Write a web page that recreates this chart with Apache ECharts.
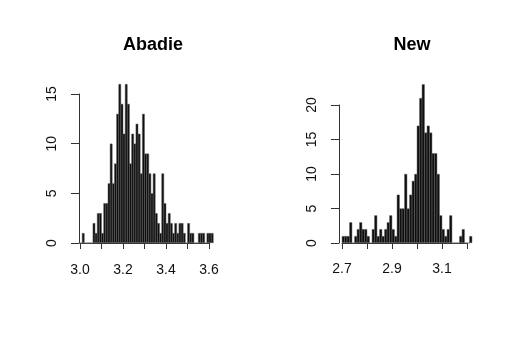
<!DOCTYPE html>
<html>
<head>
<meta charset="utf-8">
<script src="https://cdn.jsdelivr.net/npm/echarts@6/dist/echarts.min.js"></script>
<style>
  html, body { margin: 0; padding: 0; background: #fff; }
  #chart { width: 518px; height: 348px; }
</style>
</head>
<body>
<div id="chart"></div>
<script>
// bin centres (width 0.01) and counts
const abadieBins = [
  3.005, 3.015, 3.025, 3.035, 3.045, 3.055, 3.065, 3.075, 3.085, 3.095,
  3.105, 3.115, 3.125, 3.135, 3.145, 3.155, 3.165, 3.175, 3.185, 3.195,
  3.205, 3.215, 3.225, 3.235, 3.245, 3.255, 3.265, 3.275, 3.285, 3.295,
  3.305, 3.315, 3.325, 3.335, 3.345, 3.355, 3.365, 3.375, 3.385, 3.395,
  3.405, 3.415, 3.425, 3.435, 3.445, 3.455, 3.465, 3.475, 3.485, 3.495,
  3.505, 3.515, 3.525, 3.535, 3.545, 3.555, 3.565, 3.575, 3.585, 3.595,
  3.605, 3.615
];
const abadieCounts = [
  0, 1, 0, 0, 0, 0, 2, 1, 3, 3,
  1, 4, 4, 6, 10, 6, 8, 13, 16, 14,
  11, 16, 14, 8, 11, 10, 12, 11, 7, 13,
  9, 9, 7, 5, 7, 3, 2, 1, 7, 4,
  2, 3, 2, 1, 2, 1, 2, 2, 1, 0,
  2, 1, 1, 0, 0, 1, 1, 1, 0, 1,
  1, 1
];

const newBins = [
  2.705, 2.715, 2.725, 2.735, 2.745, 2.755, 2.765, 2.775, 2.785, 2.795,
  2.805, 2.815, 2.825, 2.835, 2.845, 2.855, 2.865, 2.875, 2.885, 2.895,
  2.905, 2.915, 2.925, 2.935, 2.945, 2.955, 2.965, 2.975, 2.985, 2.995,
  3.005, 3.015, 3.025, 3.035, 3.045, 3.055, 3.065, 3.075, 3.085, 3.095,
  3.105, 3.115, 3.125, 3.135, 3.145, 3.155, 3.165, 3.175, 3.185, 3.195,
  3.205, 3.215
];
const newCounts = [
  1, 1, 1, 3, 0, 1, 2, 3, 2, 2,
  1, 0, 2, 4, 1, 2, 1, 2, 3, 4,
  2, 1, 7, 5, 5, 10, 5, 7, 9, 10,
  17, 21, 23, 16, 17, 16, 13, 13, 10, 4,
  2, 1, 2, 4, 0, 0, 0, 1, 2, 0,
  0, 1
];

const titles = ['Abadie', 'New'];
const abadieXTicks = { min: 3.0, max: 3.6, interval: 0.1 };
const abadieYTicks = { min: 0, max: 15, interval: 5 };
const newXTicks = { min: 2.7, max: 3.2, interval: 0.1 };
const newYTicks = { min: 0, max: 20, interval: 5 };

const font = 'Liberation Sans, Arial, Helvetica, sans-serif';
const axisCol = '#333';

const xAxisOpt = (idx, ticks, showOdd, offset) => ({
  type: 'value',
  gridIndex: idx,
  min: ticks.min,
  max: ticks.max,
  interval: ticks.interval,
  offset: offset,
  splitLine: { show: false },
  axisLine: { show: true, lineStyle: { color: axisCol, width: 1 } },
  axisTick: { show: true, length: 6, lineStyle: { color: axisCol } },
  axisLabel: {
    color: '#111',
    fontFamily: font,
    fontSize: 14,
    margin: 12,
    showMinLabel: true,
    showMaxLabel: true,
    formatter: (v) => {
      const odd = Math.round(v * 10) % 2 === 1;
      return odd === showOdd ? v.toFixed(1) : '';
    },
  },
});

const yAxisOpt = (idx, ticks, offset) => ({
  type: 'value',
  gridIndex: idx,
  min: ticks.min,
  max: ticks.max,
  interval: ticks.interval,
  offset: offset,
  splitLine: { show: false },
  axisLine: { show: true, lineStyle: { color: axisCol, width: 1 } },
  axisTick: { show: true, length: 8, lineStyle: { color: axisCol } },
  axisLabel: {
    color: '#111',
    fontFamily: font,
    fontSize: 14,
    rotate: 90,
    margin: 20,
  },
});

const barSeries = (idx, bins, counts, width) => ({
  type: 'bar',
  xAxisIndex: idx,
  yAxisIndex: idx,
  clip: false,
  barWidth: width,
  data: bins.map((b, i) => [b, counts[i]]),
  itemStyle: { color: '#0e0e0e', borderColor: '#5c5c5c', borderWidth: 0.5 },
  silent: true,
});

const chart = echarts.init(document.getElementById('chart'), null, { renderer: 'canvas' });

chart.setOption({
  animation: false,
  backgroundColor: '#fff',
  title: [
    { text: titles[0], left: 148, top: 31, textAlign: 'center',
      textStyle: { fontFamily: font, fontSize: 18, fontWeight: 'bold', color: '#000' } },
    { text: titles[1], left: 407, top: 31, textAlign: 'center',
      textStyle: { fontFamily: font, fontSize: 18, fontWeight: 'bold', color: '#000' } },
  ],
  grid: [
    { left: 80, right: 309, top: 94, bottom: 105 },
    { left: 342, right: 51, top: 105, bottom: 105 },
  ],
  xAxis: [
    xAxisOpt(0, abadieXTicks, false, 8),
    xAxisOpt(1, newXTicks, true, 7),
  ],
  yAxis: [
    yAxisOpt(0, abadieYTicks, 1),
    yAxisOpt(1, newYTicks, 3),
  ],
  series: [
    barSeries(0, abadieBins, abadieCounts, 2.6),
    barSeries(1, newBins, newCounts, 2.9),
  ],
});
</script>
</body>
</html>
